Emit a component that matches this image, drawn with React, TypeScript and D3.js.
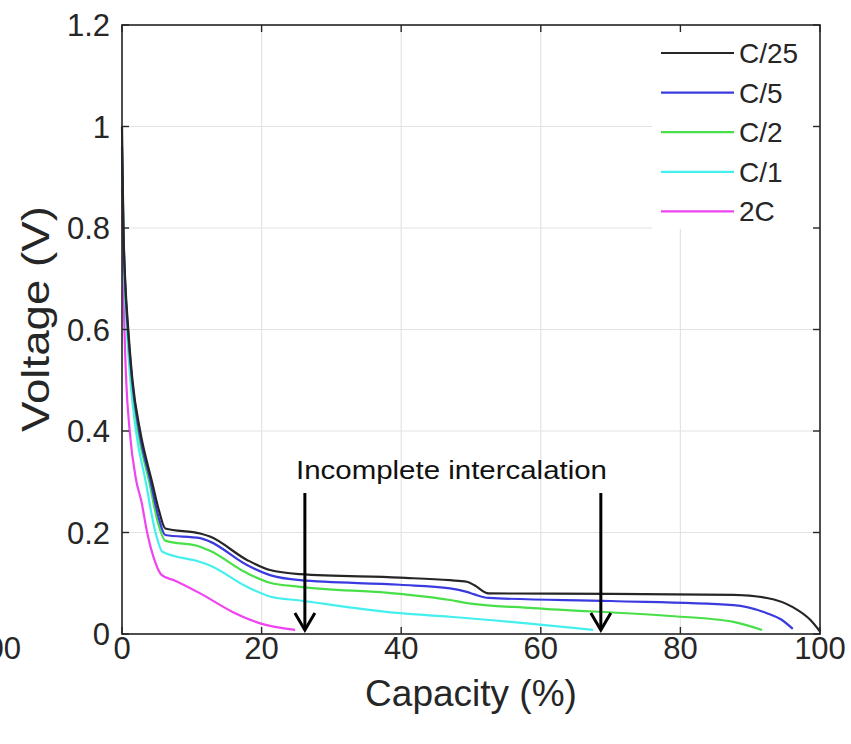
import React from "react";
import * as d3 from "d3";

const xTicks = [0, 20, 40, 60, 80, 100];
const yTicks = [0, 0.2, 0.4, 0.6, 0.8, 1, 1.2];
const yTickLabels = ["0", "0.2", "0.4", "0.6", "0.8", "1", "1.2"];
const seriesNames = ["C/25", "C/5", "C/2", "C/1", "2C"];
const seriesColors = ["#262626", "#3a3ae0", "#48e048", "#44efef", "#f044f0"];

const capC25 = [0, 0.1, 0.2, 0.45, 0.9, 1.5, 2.6, 4.3, 5.3, 6.2, 11.2, 12.6, 17.9, 21.2, 25.5, 39.8, 47, 49.4, 50.5, 52.5, 70, 87.6, 92.4, 96.1, 98.6, 100];
const vC25 = [1.0, 0.9, 0.8, 0.7, 0.6, 0.5, 0.4, 0.3, 0.243, 0.208, 0.198, 0.192, 0.146, 0.126, 0.118, 0.111, 0.106, 0.103, 0.096, 0.08, 0.079, 0.077, 0.071, 0.053, 0.028, 0.005];

const capC5 = [0, 0.1, 0.2, 0.42, 0.85, 1.45, 2.45, 4.1, 5.2, 6.2, 11.2, 12.6, 17.9, 21.2, 25.5, 39.8, 47, 49.4, 50.5, 52.5, 70, 87.6, 92.4, 94.5, 96.1];
const vC5 = [0.96, 0.88, 0.8, 0.7, 0.6, 0.5, 0.4, 0.3, 0.232, 0.195, 0.189, 0.182, 0.136, 0.116, 0.106, 0.097, 0.09, 0.083, 0.078, 0.071, 0.065, 0.057, 0.041, 0.028, 0.01];

const capC2 = [0, 0.1, 0.2, 0.4, 0.8, 1.4, 2.3, 3.9, 5.1, 6.2, 11.2, 12.6, 17.9, 21.2, 25.5, 39.8, 47, 49.4, 58.9, 78, 87.6, 91.7];
const vC2 = [0.95, 0.87, 0.8, 0.7, 0.6, 0.5, 0.4, 0.3, 0.222, 0.184, 0.172, 0.164, 0.12, 0.101, 0.093, 0.079, 0.067, 0.061, 0.051, 0.036, 0.024, 0.008];

const capC1 = [0, 0.1, 0.18, 0.35, 0.7, 1.2, 2.0, 3.4, 4.8, 5.8, 11.2, 12.6, 17.9, 21.2, 25.5, 39.8, 47, 67.5];
const vC1 = [0.93, 0.86, 0.8, 0.7, 0.6, 0.5, 0.4, 0.3, 0.2, 0.162, 0.142, 0.135, 0.093, 0.074, 0.066, 0.041, 0.034, 0.008];

const cap2C = [0, 0.1, 0.18, 0.35, 0.6, 1.1, 2.0, 2.8, 3.6, 4.5, 5.7, 7.6, 11.2, 15.9, 19.8, 24.8];
const v2C = [0.88, 0.78, 0.7, 0.6, 0.5, 0.4, 0.305, 0.26, 0.2, 0.152, 0.116, 0.105, 0.08, 0.043, 0.021, 0.008];

const seriesCaps = [capC25, capC5, capC2, capC1, cap2C];
const seriesVolts = [vC25, vC5, vC2, vC1, v2C];

const annotationText = "Incomplete intercalation";
const arrowCaps = [26.2, 68.6];

export default function App() {
  const W = 851, H = 744;
  const left = 122, right = 820, top = 25, bottom = 634;
  const x = d3.scaleLinear().domain([0, 100]).range([left, right]);
  const y = d3.scaleLinear().domain([0, 1.2]).range([bottom, top]);
  const line = d3.line<[number, number]>().x(d => x(d[0])).y(d => y(d[1])).curve(d3.curveMonotoneX);
  const font = "'Liberation Sans', Arial, sans-serif";
  const tickLen = 7;

  const legX = 652, legY = 27, legW = right - legX - 1, legH = 202;

  return (
    <svg width={W} height={H} style={{ position: "absolute", left: 0, top: 0, background: "#fff" }}>
      <rect x={0} y={0} width={W} height={H} fill="#fff" />
      {xTicks.map(t => (
        <line key={"gx" + t} x1={x(t)} x2={x(t)} y1={top} y2={bottom} stroke="#e3e3e3" strokeWidth={1.2} />
      ))}
      {yTicks.map(t => (
        <line key={"gy" + t} x1={left} x2={right} y1={y(t)} y2={y(t)} stroke="#e3e3e3" strokeWidth={1.2} />
      ))}
      <rect x={legX} y={legY} width={legW} height={legH} fill="#fff" />
      {seriesNames.map((n, i) => {
        const pts = seriesCaps[i].map((c, j) => [c, seriesVolts[i][j]] as [number, number]);
        return <path key={n} d={line(pts) || ""} fill="none" stroke={seriesColors[i]} strokeWidth={2.2} strokeLinejoin="round" />;
      }).reverse()}
      <rect x={left} y={top} width={right - left} height={bottom - top} fill="none" stroke="#262626" strokeWidth={1.6} />
      {xTicks.map(t => (
        <g key={"tx" + t}>
          <line x1={x(t)} x2={x(t)} y1={bottom} y2={bottom - tickLen} stroke="#262626" strokeWidth={1.4} />
          <line x1={x(t)} x2={x(t)} y1={top} y2={top + tickLen} stroke="#262626" strokeWidth={1.4} />
          <text x={x(t)} y={659} textAnchor="middle" fontFamily={font} fontSize={31} fill="#262626">{t}</text>
        </g>
      ))}
      {yTicks.map((t, i) => (
        <g key={"ty" + t}>
          <line x1={left} x2={left + tickLen} y1={y(t)} y2={y(t)} stroke="#262626" strokeWidth={1.4} />
          <line x1={right} x2={right - tickLen} y1={y(t)} y2={y(t)} stroke="#262626" strokeWidth={1.4} />
          <text x={110} y={y(t) + 11} textAnchor="end" fontFamily={font} fontSize={31} fill="#262626">{yTickLabels[i]}</text>
        </g>
      ))}
      <text x={21} y={659} textAnchor="end" fontFamily={font} fontSize={31} fill="#262626">100</text>
      <text x={471} y={706} textAnchor="middle" fontFamily={font} fontSize={37} fill="#262626">Capacity (%)</text>
      <text transform={`translate(49,319) rotate(-90)`} textAnchor="middle" fontFamily={font} fontSize={39} textLength={226} lengthAdjust="spacingAndGlyphs" fill="#262626">Voltage (V)</text>
      {seriesNames.map((n, i) => {
        const ly = 53 + i * 39.6;
        return (
          <g key={"leg" + n}>
            <line x1={661} x2={734} y1={ly} y2={ly} stroke={seriesColors[i]} strokeWidth={2.2} />
            <text x={739} y={ly + 10} fontFamily={font} fontSize={28} fill="#262626">{n}</text>
          </g>
        );
      })}
      <text x={296} y={479} fontFamily={font} fontSize={26} textLength={311} lengthAdjust="spacingAndGlyphs" fill="#111">{annotationText}</text>
      {arrowCaps.map(c => (
        <g key={"ar" + c} stroke="#000" strokeWidth={3} fill="none">
          <line x1={x(c)} x2={x(c)} y1={493} y2={630} />
          <polyline points={`${x(c) - 10},${613} ${x(c)},${630} ${x(c) + 10},${613}`} strokeLinejoin="miter" />
        </g>
      ))}
    </svg>
  );
}
